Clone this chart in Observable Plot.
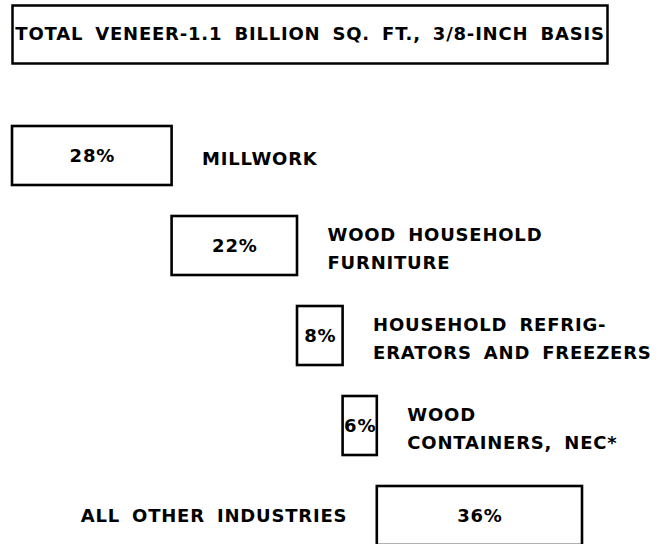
<!DOCTYPE html>
<html><head><meta charset="utf-8">
<script src="https://cdn.jsdelivr.net/npm/d3@7"></script>
<script src="https://cdn.jsdelivr.net/npm/@observablehq/plot@0.6"></script>
<style>
html,body{margin:0;padding:0;background:#fff;}
#chart{width:659px;height:544px;overflow:hidden;position:relative;background:#fff;}
#chart svg{display:block;overflow:hidden;}
</style></head><body><div id="chart"></div>
<script>
// ---- data ----
const title = "TOTAL VENEER-1.1 BILLION SQ. FT., 3/8-INCH BASIS";
const industries = [
  "MILLWORK",
  "WOOD HOUSEHOLD\nFURNITURE",
  "HOUSEHOLD REFRIG-\nERATORS AND FREEZERS",
  "WOOD\nCONTAINERS, NEC*",
  "ALL OTHER INDUSTRIES"
];
const shares = [28, 22, 8, 6, 36];
const shareLabels = ["28%", "22%", "8%", "6%", "36%"];

// waterfall table built from the arrays
const rows = industries.map((name, i) => {
  const start = d3.sum(shares.slice(0, i));
  return {name, share: shares[i], label: shareLabels[i], start, end: start + shares[i]};
});

const baseStyle = {
  fontFamily: "'DejaVu Sans', sans-serif",
  fontWeight: "bold",
  color: "#000",
  background: "#fff",
  letterSpacing: "0.8px",
  wordSpacing: "5px"
};

const header = Plot.plot({
  width: 659, height: 70,
  marginTop: 5, marginBottom: 7, marginLeft: 12, marginRight: 52,
  x: {domain: [0, 100], axis: null},
  style: baseStyle,
  marks: [
    Plot.frame({stroke: "#000", strokeWidth: 2.5}),
    Plot.text([title], {frameAnchor: "middle", text: d => d, fontSize: 18, fill: "#000"})
  ]
});

const body = Plot.plot({
  width: 659, height: 474,
  marginTop: 0, marginBottom: 0, marginLeft: 12, marginRight: 77,
  x: {domain: [0, 100], axis: null},
  y: {type: "band", domain: industries, range: [38.6, 492.4], paddingInner: 0.34, paddingOuter: 0.17, axis: null},
  style: baseStyle,
  marks: [
    Plot.barX(rows, {x1: "start", x2: "end", y: "name", fill: "#fff", stroke: "#000", strokeWidth: 2.6}),
    Plot.text(rows, {x: d => (d.start + d.end) / 2, y: "name", text: "label", fontSize: 18, fill: "#000"}),
    Plot.text(rows.slice(0, 4), {x: "end", y: "name", text: "name", textAnchor: "start", dx: 30, lineHeight: 1.55, fontSize: 18, fill: "#000"}),
    Plot.text(rows.slice(4), {x: "start", y: "name", text: "name", textAnchor: "end", dx: -30, fontSize: 18, fill: "#000"})
  ]
});

const root = document.getElementById("chart");
root.appendChild(header);
root.appendChild(body);
</script>
</body></html>
